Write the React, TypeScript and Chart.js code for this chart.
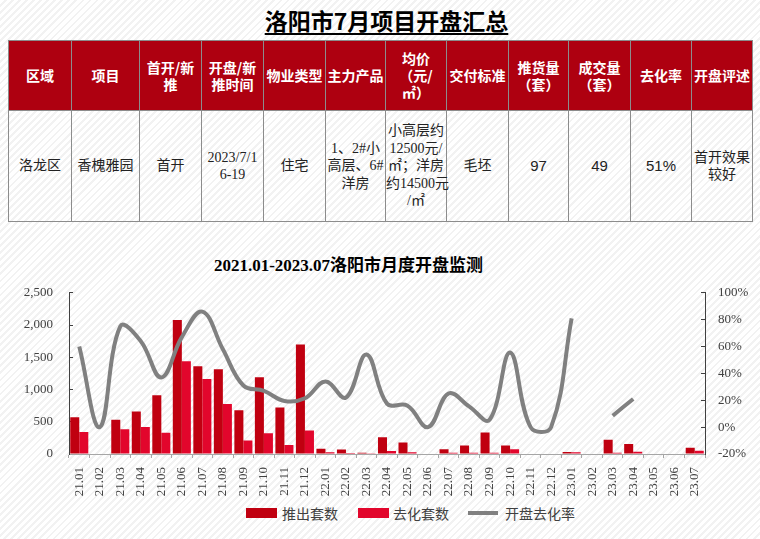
import React, { useEffect, useRef } from "react";
import { Chart, registerables } from "chart.js";

Chart.register(...registerables);

// ---------- table data ----------
const tableTitle = "洛阳市7月项目开盘汇总";
const headerCells: string[][] = [
  ["区域"],
  ["项目"],
  ["首开/新", "推"],
  ["开盘/新", "推时间"],
  ["物业类型"],
  ["主力产品"],
  ["均价", "（元/", "㎡）"],
  ["交付标准"],
  ["推货量", "（套）"],
  ["成交量", "（套）"],
  ["去化率"],
  ["开盘评述"],
];
const bodyCells: string[][] = [
  ["洛龙区"],
  ["香槐雅园"],
  ["首开"],
  ["2023/7/1", "6-19"],
  ["住宅"],
  ["1、2#小", "高层、6#", "洋房"],
  ["小高层约", "12500元/", "㎡；洋房", "约14500元", "/㎡"],
  ["毛坯"],
  ["97"],
  ["49"],
  ["51%"],
  ["首开效果", "较好"],
];
const sansCols = [8, 9, 10];
const colWidths = [63, 68, 62, 62, 62, 60, 61, 62, 60, 62, 61, 61];

// ---------- chart data ----------
const chartTitle = "2021.01-2023.07洛阳市月度开盘监测";
const months = [
  "21.01", "21.02", "21.03", "21.04", "21.05", "21.06", "21.07", "21.08", "21.09", "21.10", "21.11", "21.12",
  "22.01", "22.02", "22.03", "22.04", "22.05", "22.06", "22.07", "22.08", "22.09", "22.10", "22.11", "22.12",
  "23.01", "23.02", "23.03", "23.04", "23.05", "23.06", "23.07",
];
const launched = [
  570, 0, 530, 660, 910, 2080, 1360, 1315, 680, 1190, 720, 1700,
  80, 70, 20, 260, 180, 0, 75, 130, 335, 130, 0, 0,
  32, 0, 220, 157, 0, 0, 97,
];
const sold = [
  340, 0, 385, 420, 330, 1440, 1165, 775, 210, 320, 140, 365,
  27, 15, 11, 45, 29, 0, 19, 20, 18, 72, 0, 0,
  26, 0, 19, 33, 0, 0, 49,
];
const rate: (number | null)[] = [
  60, 0, 75, 64, 37, 67, 86, 58, 31, 27, 19.5, 21.5,
  34, 22, 54, 17.5, 16, 0, 25, 15.5, 5.5, 55.5, 0, 0,
  81, null, 8.5, 21, null, null, null,
];
const legendLabels = ["推出套数", "去化套数", "开盘去化率"];

const C_LAUNCH = "#C00010";
const C_SOLD = "#E2062C";
const C_LINE = "#808080";
const SERIF = "'Liberation Serif', 'Times New Roman', 'Noto Sans CJK SC', serif";
const CJK = "'Noto Sans CJK SC', sans-serif";

const CANVAS_TOP = 265;
const CANVAS_H = 237;

function ChartBox() {
  const ref = useRef<HTMLCanvasElement | null>(null);
  useEffect(() => {
    if (!ref.current) return;
    const tickFont = { family: SERIF, size: 13 };
    const chart = new Chart(ref.current, {
      type: "bar",
      data: {
        labels: months,
        datasets: [
          {
            type: "line",
            label: legendLabels[2],
            data: rate,
            yAxisID: "y1",
            borderColor: C_LINE,
            backgroundColor: C_LINE,
            borderWidth: 4,
            pointRadius: 0,
            tension: 0.4,
            spanGaps: false,
            order: 0,
          } as any,
          {
            label: legendLabels[0],
            data: launched,
            yAxisID: "y",
            backgroundColor: C_LAUNCH,
            categoryPercentage: 0.88,
            barPercentage: 1.0,
            order: 1,
          },
          {
            label: legendLabels[1],
            data: sold,
            yAxisID: "y",
            backgroundColor: C_SOLD,
            categoryPercentage: 0.88,
            barPercentage: 1.0,
            order: 2,
          },
        ],
      },
      options: {
        responsive: false,
        animation: false,
        devicePixelRatio: 1,
        layout: { padding: { top: 1, left: 0, right: 0, bottom: 0 } },
        plugins: {
          legend: { display: false },
          tooltip: { enabled: false },
          title: { display: false },
        },
        scales: {
          x: {
            type: "category",
            offset: true,
            grid: {
              display: true,
              offset: true,
              drawOnChartArea: false,
              drawTicks: true,
              tickLength: 4,
              color: "#a6a6a6",
            },
            border: { display: true, color: "#a6a6a6", width: 1 },
            ticks: {
              minRotation: 90,
              maxRotation: 90,
              autoSkip: false,
              padding: 9,
              font: tickFont,
              color: "#404040",
            },
            afterFit: (s: any) => {
              s.height = 48;
            },
          },
          y: {
            position: "left",
            min: 0,
            max: 2500,
            ticks: { stepSize: 500, padding: 20, font: tickFont, color: "#404040" },
            grid: { drawOnChartArea: false, drawTicks: true, tickLength: -4, color: "#404040" },
            border: { display: true, color: "#404040", width: 1 },
            afterFit: (s: any) => {
              s.width = 69;
            },
          },
          y1: {
            position: "right",
            min: -20,
            max: 100,
            ticks: {
              stepSize: 20,
              padding: 17,
              font: tickFont,
              color: "#404040",
              callback: (v: any) => `${v}%`,
            },
            grid: { drawOnChartArea: false, drawTicks: true, tickLength: -4, color: "#404040" },
            border: { display: true, color: "#404040", width: 1 },
            afterFit: (s: any) => {
              s.width = 55;
            },
          },
        },
      } as any,
    });
    return () => chart.destroy();
  }, []);
  return (
    <canvas
      ref={ref}
      width={760}
      height={CANVAS_H}
      style={{ position: "absolute", left: 0, top: CANVAS_TOP, width: 760, height: CANVAS_H }}
    />
  );
}

export default function App() {
  const border = "1.5px solid #8c8c8c";
  return (
    <div
      style={{
        position: "absolute",
        left: 0,
        top: 0,
        width: 760,
        height: 539,
        overflow: "hidden",
        background:
          "repeating-linear-gradient(135deg, #ffffff 0px, #ffffff 3px, #f2f2f2 3px, #f2f2f2 5px)",
        fontFamily: CJK,
      }}
    >
      <div
        style={{
          position: "absolute",
          left: 0,
          width: 773,
          top: 5,
          textAlign: "center",
          fontSize: 23,
          fontWeight: 700,
          lineHeight: "30px",
          color: "#000",
        }}
      >
        <span style={{ textDecoration: "underline", textUnderlineOffset: 3 }}>{tableTitle}</span>
      </div>

      <table
        style={{
          position: "absolute",
          left: 8,
          top: 40,
          width: 744,
          borderCollapse: "collapse",
          tableLayout: "fixed",
        }}
      >
        <colgroup>
          {colWidths.map((w, i) => (
            <col key={i} style={{ width: w }} />
          ))}
        </colgroup>
        <tbody>
          <tr style={{ height: 70 }}>
            {headerCells.map((lines, i) => (
              <td
                key={i}
                style={{
                  border,
                  background: "#AE0010",
                  color: "#fff",
                  fontWeight: 700,
                  fontSize: 14,
                  lineHeight: "17px",
                  textAlign: "center",
                  verticalAlign: "middle",
                  padding: 0,
                  fontFamily: CJK,
                }}
              >
                {lines.map((l, j) => (
                  <div key={j}>{l}</div>
                ))}
              </td>
            ))}
          </tr>
          <tr style={{ height: 111 }}>
            {bodyCells.map((lines, i) => (
              <td
                key={i}
                style={{
                  border,
                  color: "#222",
                  fontSize: sansCols.includes(i) ? 15 : 14,
                  lineHeight: "17.5px",
                  textAlign: "center",
                  verticalAlign: "middle",
                  padding: 0,
                  fontFamily: sansCols.includes(i)
                    ? "'Liberation Sans', Arial, sans-serif"
                    : SERIF,
                  whiteSpace: "nowrap",
                }}
              >
                {lines.map((l, j) => (
                  <div key={j}>{l}</div>
                ))}
              </td>
            ))}
          </tr>
        </tbody>
      </table>

      <div
        style={{
          position: "absolute",
          left: 0,
          width: 697,
          top: 255,
          textAlign: "center",
          fontSize: 17,
          fontWeight: 700,
          lineHeight: "22px",
          fontFamily: SERIF,
          color: "#000",
        }}
      >
        {chartTitle}
      </div>

      <ChartBox />

      <div style={{ position: "absolute", left: 246, top: 508, width: 31, height: 10, background: C_LAUNCH }} />
      <div style={{ position: "absolute", left: 282, top: 503, fontSize: 14, lineHeight: "20px", color: "#404040" }}>
        {legendLabels[0]}
      </div>
      <div style={{ position: "absolute", left: 358, top: 508, width: 31, height: 10, background: C_SOLD }} />
      <div style={{ position: "absolute", left: 393, top: 503, fontSize: 14, lineHeight: "20px", color: "#404040" }}>
        {legendLabels[1]}
      </div>
      <div style={{ position: "absolute", left: 468, top: 511, width: 30, height: 4, background: C_LINE }} />
      <div style={{ position: "absolute", left: 505, top: 503, fontSize: 14, lineHeight: "20px", color: "#404040" }}>
        {legendLabels[2]}
      </div>
    </div>
  );
}
